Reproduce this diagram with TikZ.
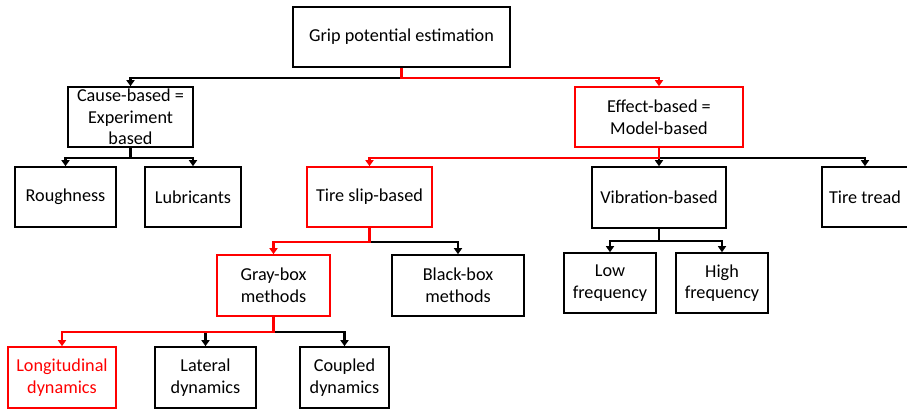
\documentclass[tikz,border=0pt]{standalone}
\usepackage{fontspec}
\setmainfont{Carlito}
\usetikzlibrary{arrows.meta}
\tikzset{
  box/.style={draw, line width=1.6pt, align=center, inner sep=0pt,
    font=\fontsize{18.2}{21.7}\selectfont},
  link/.style={line width=2.4pt, -{Triangle[width=8pt,length=6pt]}}
}
\begin{document}
\begin{tikzpicture}[x=1pt,y=-1pt]
    \useasboundingbox (0,0) rectangle (907,410);

    \foreach \n/\x/\y/\w/\h/\c/\f/\t in {root/401.5/37/217/60/black/black/Grip potential estimation,
      cause/130.5/117/125/60/black/black/Cause-based =\\Experiment\\based,
      effect/659/117/168/60/red/black/Effect-based =\\Model-based,
      rough/65.5/197/101/60/black/black/Roughness,
      lubri/193/197/96/60/black/black/Lubricants,
      slip/369.5/197/125/60/red/black/Tire slip-based,
      vib/659/197.5/134/61/black/black/Vibration-based,
      tread/865/197/86/60/black/black/Tire tread,
      graybox/273.5/285.5/113/61/red/black/Gray-box\\methods,
      blackbox/458/285.5/132/61/black/black/Black-box\\methods,
      low/610/283/92/60/black/black/Low\\frequency,
      high/722/283/92/60/black/black/High\\frequency,
      longi/62/377.5/108/61/red/red/Longitudinal\\dynamics,
      lateral/205.5/377.5/101/61/black/black/Lateral\\dynamics,
      coupled/344.5/377.5/89/61/black/black/Coupled\\dynamics} {
      \node[box, draw=\c, text=\f, minimum width=\w pt, minimum height=\h pt] (\n) at (\x,\y) {\t};
    }

    % black branches first, red path on top
    \foreach \a/\b/\d/\c in {root/cause/10/black, root/effect/10/red,
      cause/rough/10/black, cause/lubri/10/black,
      effect/vib/10/black, effect/tread/10/black, effect/slip/10/red,
      slip/blackbox/14/black, slip/graybox/14/red,
      vib/low/12/black, vib/high/12/black,
      graybox/lateral/15/black, graybox/coupled/15/black, graybox/longi/15/red} {
      \draw[link, draw=\c] (\a.south) -- ++(0,\d) -| (\b.north);
    }
  \end{tikzpicture}
\end{document}
